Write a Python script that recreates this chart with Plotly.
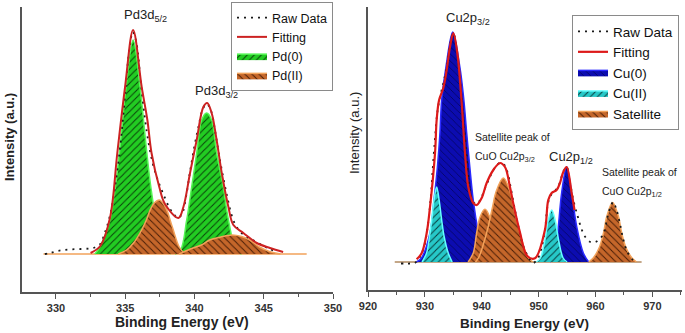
import plotly.graph_objects as go

# ---------------- Left panel: Pd 3d ----------------
pd_raw_E = [329.2, 329.6, 330.1, 330.6, 331.2, 331.8, 332.4, 332.8, 333.2, 333.5, 333.8, 334.1, 334.4, 334.7,
            335.0, 335.3, 335.55, 335.8, 336.1, 336.4, 336.7, 337.0, 337.3, 337.6, 337.9, 338.2, 338.5, 338.8,
            339.1, 339.4, 339.7, 340.0, 340.3, 340.6, 340.9, 341.2, 341.5, 341.8, 342.1, 342.4, 342.7, 343.0,
            343.4, 343.8, 344.2, 344.6, 345.0, 345.4, 345.8]
pd_raw_I = [0, 1, 3, 4, 4.7, 5, 5.5, 6.5, 10, 20, 33, 52, 80, 115,
            160, 205, 222, 212, 175, 138, 110, 90, 76, 65, 55, 46, 40, 36,
            40, 58, 84, 108, 128, 145, 150, 143, 122, 97, 75, 55, 38, 28,
            21, 17, 14, 11, 8, 5, 3]

pd_fit_E = [332.5, 333.2, 333.9, 334.43, 334.99, 335.57, 336.19, 336.6, 336.9, 337.46, 337.87, 338.84,
            339.2, 339.68, 340.16, 340.64, 340.92, 341.24, 341.6, 341.97, 342.45, 342.81, 343.53, 344.5,
            345.45, 346.4]
pd_fit_I = [1, 8, 36, 101, 167, 224, 167, 134, 101, 67, 50, 36,
            47, 81, 114, 147, 151, 141, 114, 81, 47, 29, 21, 11,
            6, 2]

pd0_a_E = [332.8, 333.18, 333.9, 334.29, 334.58, 334.82, 335.06, 335.57, 336.07, 336.32, 336.56, 336.85, 337.25, 337.96, 338.3]
pd0_a_I = [0, 7, 34, 67, 101, 134, 167, 214, 167, 134, 101, 67, 34, 7, 0]
pd0_b_E = [338.6, 339.0, 339.44, 339.8, 340.16, 340.52, 340.88, 341.24, 341.6, 342.08, 342.45, 343.0, 343.4]
pd0_b_I = [0, 4, 34, 67, 101, 134, 141, 134, 101, 67, 34, 4, 0]

pd2_a_E = [334.5, 335.1, 335.6, 336.07, 336.5, 336.8, 337.1, 337.46, 337.9, 338.4, 338.9, 339.3]
pd2_a_I = [0, 4, 11, 21, 33, 44, 51, 54, 47, 27, 7, 0]
pd2_b_E = [338.9, 339.7, 340.5, 341.1, 341.9, 342.7, 343.4, 344.0, 344.7, 345.4, 346.2]
pd2_b_I = [0, 5, 9, 14, 17, 19, 17.5, 14, 7, 2.5, 0]

pd_base_E = [329.1, 348.1]
pd_base_I = [0, 0]

# ---------------- Right panel: Cu 2p ----------------
cu_raw_E = [925.8, 926.6, 927.4, 928.2, 929.0, 929.8, 930.5, 931.0, 931.4, 931.8, 932.2, 932.7, 933.3, 933.9,
            934.5, 935.0, 935.6, 936.2, 936.8, 937.4, 937.9, 938.5, 939.1, 939.8, 940.6, 941.5, 942.4, 943.2,
            944.0, 944.6, 945.1, 945.7, 946.5, 947.3, 948.2, 949.0, 949.8, 950.5, 951.1, 951.7, 952.3, 953.0,
            953.7, 954.3, 954.9, 955.5, 956.1, 956.9, 957.6, 958.2, 959.1, 960.0, 960.9, 961.5, 962.1, 962.7,
            963.1, 963.7, 964.3, 964.9, 965.6, 966.6, 967.4]
cu_raw_I = [-1.5, -1.5, -1.5, -1, 4, 14, 36, 62, 95, 125, 150, 166, 180, 197,
            219, 229, 212, 180, 138, 100, 72, 60, 58, 63, 74, 86, 95, 99,
            97, 88, 74, 56, 34, 16, 5, -1, 3, 14, 32, 60, 68, 72,
            79, 90, 95, 80, 62, 45, 32, 25, 20, 20, 24, 30, 45, 56,
            60, 52, 38, 22, 10, 2, 0]

cu_fit_E = [928.55, 929.43, 930.31, 930.9, 931.78, 932.07, 932.5, 933.24, 933.83, 934.41, 935.0, 935.7,
            936.47, 937.05, 937.63, 938.5, 939.1, 939.98, 940.86, 942.03, 943.2, 944.08, 944.96, 945.6,
            946.7, 948.0, 949.35, 951.1, 951.69, 952.28, 953.16, 953.74, 954.33, 954.92, 955.8, 956.3]
cu_fit_I = [2.7, 8.7, 28.7, 55, 108.7, 142, 162, 174, 192, 215, 229, 209,
            159, 109, 75, 59, 57, 64, 79, 92, 99, 95, 75, 57,
            30, 6, 3.7, 32, 62, 69, 72, 79, 90, 95, 69, 52]

cu0_a_E = [928.5, 929.4, 930.9, 931.6, 932.2, 932.65, 932.95, 933.7, 934.9, 936.15, 936.85, 937.35, 937.9, 938.5, 939.4, 940.3, 941.0]
cu0_a_I = [0, 4, 29, 62, 95, 129, 162, 195, 230, 195, 162, 129, 95, 62, 29, 5, 0]
cu0_b_E = [952.0, 952.86, 953.45, 954.04, 954.92, 955.8, 956.7, 957.85, 958.8]
cu0_b_I = [0, 9, 35, 69, 95.3, 69, 35, 9, 0]

cu2_a_E = [929.5, 930.3, 930.8, 931.2, 931.6, 932.07, 932.5, 932.95, 933.4, 934.1, 934.8]
cu2_a_I = [0, 9, 25, 42, 62, 75, 62, 42, 25, 9, 0]
cu2_b_E = [949.6, 950.3, 951.1, 951.7, 952.3, 952.9, 953.5, 954.3, 955.0]
cu2_b_I = [0, 4, 22, 42, 52, 42, 22, 4, 0]

sat_a_E = [937.6, 938.5, 939.1, 939.7, 940.56, 941.4, 942.0, 942.6, 943.5]
sat_a_I = [0, 9, 29, 45, 52.7, 45, 29, 9, 0]
sat_b_E = [938.9, 939.5, 940.85, 941.9, 942.5, 943.8, 945.0, 945.6, 946.7, 948.1, 949.0]
sat_b_I = [0, 5, 29, 55, 70, 84, 70, 55, 29, 5, 0]
sat_c_E = [958.8, 959.6, 960.7, 961.4, 962.0, 963.0, 964.0, 964.6, 965.3, 966.4, 967.2]
sat_c_I = [0, 4, 15, 29, 46, 59.5, 46, 29, 15, 4, 0]

cu_base_E = [924.7, 968.1]
cu_base_I = [0, 0]

# ---------------- Styles ----------------
FONT = "Arial, Liberation Sans, sans-serif"
GREEN = dict(bg="#22cc22", fg="#0a400a", edge="#55f555", sol=0.2)
ORANGE = dict(bg="#c4662a", fg="#4a1e06", edge="#f2a25a", sol=0.2)
BLUE = dict(bg="#0c0cb0", fg="#03035a", edge="#2a2aff", sol=0.15)
CYAN = dict(bg="#26c8c8", fg="#083c3c", edge="#66ffff", sol=0.2)

fig = go.Figure()


def peak(E, I, sty, shape, name, show, xa, ya, legend, rank):
    fig.add_trace(go.Scatter(
        x=E, y=I, mode="lines", name=name, showlegend=show, legendgroup=name + xa,
        line=dict(color=sty["edge"], width=1.5, shape="spline", smoothing=1.0),
        fill="tozeroy", fillcolor=sty["bg"],
        fillpattern=dict(shape=shape, bgcolor=sty["bg"], fgcolor=sty["fg"], size=5, solidity=sty["sol"]),
        xaxis=xa, yaxis=ya, legend=legend, legendrank=rank, hoverinfo="skip"))


RAW_DASH = "2px,5px"

# Left panel
fig.add_trace(go.Scatter(x=pd_base_E, y=pd_base_I, mode="lines", showlegend=False,
                         line=dict(color=ORANGE["edge"], width=1.5), xaxis="x", yaxis="y"))
peak(pd0_a_E, pd0_a_I, GREEN, "/", "Pd(0)", True, "x", "y", "legend", 3)
peak(pd0_b_E, pd0_b_I, GREEN, "/", "Pd(0)", False, "x", "y", "legend", 3)
peak(pd2_a_E, pd2_a_I, ORANGE, "\\", "Pd(II)", True, "x", "y", "legend", 4)
peak(pd2_b_E, pd2_b_I, ORANGE, "\\", "Pd(II)", False, "x", "y", "legend", 4)
fig.add_trace(go.Scatter(x=pd_raw_E, y=pd_raw_I, mode="lines", name="Raw Data",
                         line=dict(color="#1a1a1a", width=1.8, dash=RAW_DASH, shape="spline"),
                         xaxis="x", yaxis="y", legend="legend", legendrank=1))
fig.add_trace(go.Scatter(x=pd_fit_E, y=pd_fit_I, mode="lines", name="Fitting",
                         line=dict(color="#cc2222", width=2, shape="spline"),
                         xaxis="x", yaxis="y", legend="legend", legendrank=2))

# Right panel
fig.add_trace(go.Scatter(x=cu_base_E, y=cu_base_I, mode="lines", showlegend=False,
                         line=dict(color="#b08a60", width=1.5), xaxis="x2", yaxis="y2"))
peak(cu0_a_E, cu0_a_I, BLUE, "\\", "Cu(0)", True, "x2", "y2", "legend2", 3)
peak(cu0_b_E, cu0_b_I, BLUE, "\\", "Cu(0)", False, "x2", "y2", "legend2", 3)
peak(sat_a_E, sat_a_I, ORANGE, "\\", "Satellite", True, "x2", "y2", "legend2", 5)
peak(sat_b_E, sat_b_I, ORANGE, "\\", "Satellite", False, "x2", "y2", "legend2", 5)
peak(sat_c_E, sat_c_I, ORANGE, "\\", "Satellite", False, "x2", "y2", "legend2", 5)
peak(cu2_a_E, cu2_a_I, CYAN, "/", "Cu(II)", True, "x2", "y2", "legend2", 4)
peak(cu2_b_E, cu2_b_I, CYAN, "/", "Cu(II)", False, "x2", "y2", "legend2", 4)
fig.add_trace(go.Scatter(x=cu_raw_E, y=cu_raw_I, mode="lines", name="Raw Data",
                         line=dict(color="#1a1a1a", width=1.8, dash=RAW_DASH, shape="spline"),
                         xaxis="x2", yaxis="y2", legend="legend2", legendrank=1))
fig.add_trace(go.Scatter(x=cu_fit_E, y=cu_fit_I, mode="lines", name="Fitting",
                         line=dict(color="#dd1a1a", width=2.2, shape="spline"),
                         xaxis="x2", yaxis="y2", legend="legend2", legendrank=2))

axis_common = dict(showline=True, linecolor="#555555", linewidth=1.5, showgrid=False, zeroline=False,
                   ticks="outside", ticklen=5, tickwidth=1.2, tickcolor="#555555", automargin=False,
                   tickfont=dict(family=FONT, size=11, color="#333333", weight="bold"))
minor_common = dict(ticks="outside", ticklen=3, tickwidth=1, tickcolor="#555555")
yaxis_common = dict(showline=True, linecolor="#555555", linewidth=1.5, showgrid=False, zeroline=False,
                    showticklabels=False, ticks="", automargin=False)

W, H = 685, 333
fig.update_layout(
    template="none",
    width=W, height=H, autosize=False,
    margin=dict(l=0, r=0, t=0, b=0, pad=0, autoexpand=False),
    paper_bgcolor="white", plot_bgcolor="white",
    font=dict(family=FONT, color="#222222"),
    xaxis=dict(domain=[22 / W, 333 / W], range=[327.55, 350], dtick=5, tick0=330,
               minor=dict(dtick=2.5, tick0=330, **minor_common), anchor="y", **axis_common),
    yaxis=dict(domain=[1 - 292 / H, 1 - 7 / H], range=[-38, 247], anchor="x", **yaxis_common),
    xaxis2=dict(domain=[368 / W, 682 / W], range=[920, 975.2], dtick=10, tick0=920,
                minor=dict(dtick=5, tick0=920, **minor_common), anchor="y2", **axis_common),
    yaxis2=dict(domain=[1 - 290 / H, 1 - 7 / H], range=[-28, 255], anchor="x2", **yaxis_common),
    legend=dict(x=333 / W, xanchor="right", y=1 - 2 / H, yanchor="top", bgcolor="white",
                bordercolor="#8a8a8a", borderwidth=1, font=dict(family=FONT, size=12.5, color="#111111"),
                tracegroupgap=0, itemwidth=30),
    legend2=dict(x=679 / W, xanchor="right", y=1 - 15 / H, yanchor="top", bgcolor="white",
                 bordercolor="#8a8a8a", borderwidth=1, font=dict(family=FONT, size=13.5, color="#111111"),
                 tracegroupgap=0, itemwidth=30),
)

ann = []


def label(x, y, text, size, xref="x", yref="y", xanchor="center", bold=False, angle=0):
    f = dict(family=FONT, size=size, color="#222222")
    if bold:
        f["weight"] = "bold"
    ann.append(dict(x=x, y=y, xref=xref, yref=yref, text=text, showarrow=False, xanchor=xanchor,
                    yanchor="middle", textangle=angle, font=f))


# peak labels
label(336.5, 238, "Pd3d<sub>5/2</sub>", 13)
label(341.6, 162, "Pd3d<sub>3/2</sub>", 13)
label(937.6, 243, "Cu2p<sub>3/2</sub>", 13, "x2", "y2")
label(955.7, 105, "Cu2p<sub>1/2</sub>", 13, "x2", "y2")
label(938.45, 125, "Satellite peak of", 10.5, "x2", "y2", "left")
label(938.45, 105, "CuO Cu2p<sub>3/2</sub>", 10.5, "x2", "y2", "left")
label(960.7, 90, "Satellite peak of", 10.5, "x2", "y2", "left")
label(960.7, 70, "CuO Cu2p<sub>1/2</sub>", 10.5, "x2", "y2", "left")
# axis titles
label(182 / W, 1 - 322 / H, "Binding Energy (eV)", 14, "paper", "paper", bold=True)
label(524 / W, 1 - 323 / H, "Binding Energy (eV)", 13.5, "paper", "paper", bold=True)
label(10 / W, 1 - 137 / H, "Intensity (a.u.)", 13, "paper", "paper", bold=True, angle=-90)
label(354 / W, 1 - 133 / H, "Intensity (a.u.)", 13, "paper", "paper", angle=-90)
fig.update_layout(annotations=ann)

fig.write_html("out.html", config={"displayModeBar": False},
               post_script="document.body.style.margin='0px';")
